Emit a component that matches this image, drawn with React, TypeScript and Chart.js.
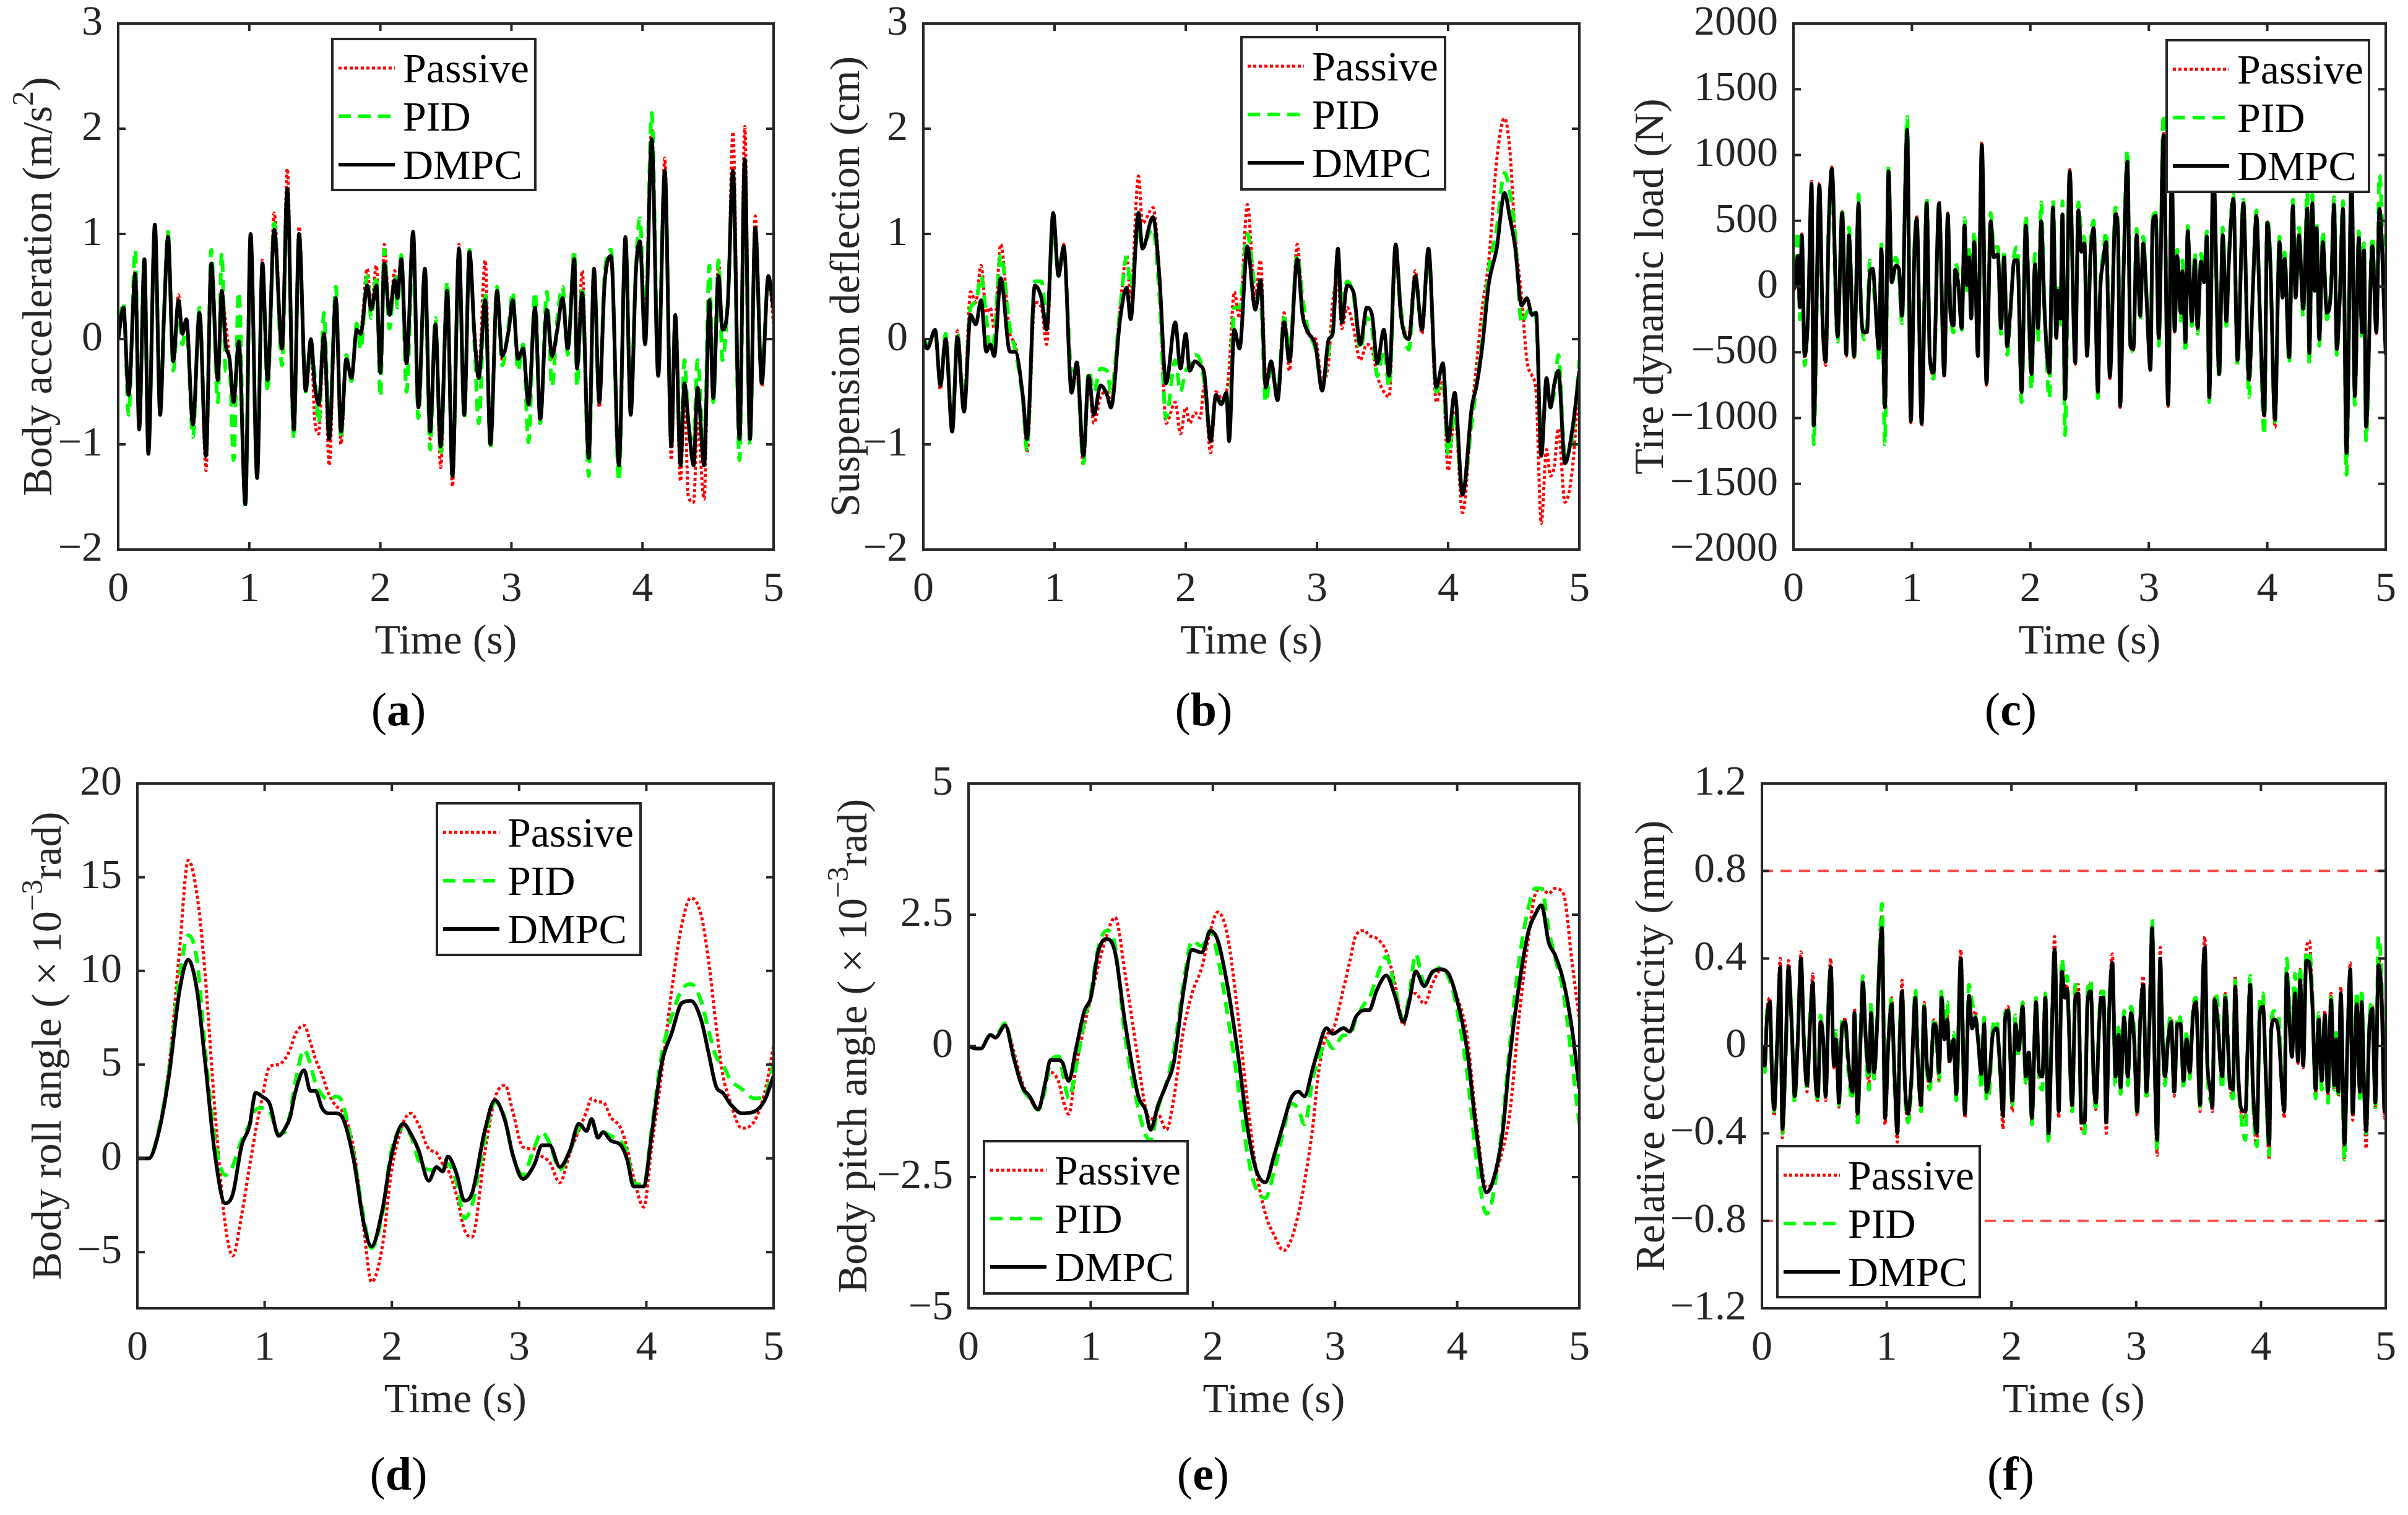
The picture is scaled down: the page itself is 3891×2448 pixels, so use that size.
import { useEffect, useRef } from "react";
import { Chart, registerables } from "chart.js";

Chart.register(...registerables);

const FONT = "'Liberation Serif', 'Times New Roman', serif";
const INK = "#262626";
const TXT = 68;
const PAD_TOP = 72;

// ---------- (a) body acceleration ----------
const accTime = [
  0, 0.04, 0.08, 0.13, 0.16, 0.2, 0.23, 0.28, 0.32, 0.35,
  0.38, 0.42, 0.46, 0.49, 0.52, 0.57, 0.62, 0.67, 0.71, 0.76,
  0.79, 0.82, 0.85, 0.88, 0.92, 0.97, 1.01, 1.06, 1.1, 1.14,
  1.19, 1.25, 1.29, 1.34, 1.38, 1.43, 1.47, 1.5, 1.53, 1.57,
  1.61, 1.66, 1.7, 1.74, 1.78, 1.82, 1.85, 1.9, 1.93, 1.97,
  2.0, 2.03, 2.07, 2.11, 2.13, 2.16, 2.2, 2.25, 2.29, 2.34,
  2.38, 2.42, 2.46, 2.51, 2.55, 2.6, 2.64, 2.68, 2.72, 2.75,
  2.8, 2.84, 2.89, 2.93, 2.98, 3.01, 3.05, 3.09, 3.13, 3.18,
  3.22, 3.27, 3.31, 3.35, 3.39, 3.43, 3.48, 3.5, 3.54, 3.59,
  3.63, 3.67, 3.71, 3.76, 3.82, 3.87, 3.91, 3.95, 3.98, 4.02,
  4.07, 4.12, 4.17, 4.22, 4.25, 4.29, 4.32, 4.35, 4.39, 4.42,
  4.47, 4.51, 4.54, 4.58, 4.61, 4.65, 4.69, 4.74, 4.78, 4.82,
  4.86, 4.91, 4.96, 5.0,
];
const accDmpc = [
  0, 0.3, -0.53, 0.62, -0.86, 0.76, -1.09, 1.09, -0.72, 0.23,
  0.97, -0.21, 0.37, 0.05, 0.19, -0.81, 0.25, -1.11, 0.72, -0.39,
  0.46, -0.05, -0.19, -0.6, -0.02, -1.57, 1.0, -1.32, 0.72, -0.39,
  1.04, -0.09, 1.43, -0.86, 1.0, -0.49, 0, -0.44, -0.62, 0.05,
  -0.95, 0.39, -0.88, -0.19, -0.37, 0.09, 0.05, 0.51, 0.28, 0.51,
  -0.32, 0.72, 0.23, 0.56, 0.39, 0.76, -0.23, 1.02, -0.65, 0.67,
  -0.88, 0.14, -1.02, 0.46, -1.3, 0.86, -0.72, 0.83, 0, -0.37,
  0.37, -1.0, 0.46, -0.16, 0.09, 0.37, -0.19, -0.09, -0.62, 0.3,
  -0.76, 0.28, -0.16, 0.09, 0.39, -0.09, 0.76, -0.28, 0.44, -1.13,
  0.67, -0.6, 0.51, 0.79, -1.2, 0.97, -0.72, 0.65, 0.93, -0.05,
  1.9, -0.35, 1.6, -1.02, 0.23, -1.2, -0.42, -0.79, -1.2, -0.46,
  -1.2, 0.37, -0.56, 0.6, 0.09, 0.32, 1.6, -0.95, 1.71, -0.95,
  1.06, -0.42, 0.6, 0.28,
];
const accPid = [
  0, 0.35, -0.72, 0.85, -0.8, 0.7, -1.05, 1.05, -0.65, 0.3,
  1.02, -0.3, 0.3, -0.05, 0.15, -0.93, 0.3, -1.1, 0.85, -0.6,
  0.82, -0.3, -0.3, -1.15, 0.45, -1.6, 0.95, -1.3, 0.65, -0.5,
  1.1, -0.25, 1.4, -0.95, 1.0, -0.5, -0.1, -0.35, -0.8, 0.25,
  -0.9, 0.5, -0.95, -0.15, -0.4, 0.15, -0.1, 0.6, 0.2, 0.6,
  -0.55, 0.85, 0.1, 0.6, 0.3, 0.8, -0.5, 0.9, -0.75, 0.6,
  -1.05, 0.2, -1.1, 0.55, -1.3, 0.8, -0.75, 0.85, -0.1, -0.8,
  0.45, -1.05, 0.5, -0.25, 0.15, 0.45, -0.3, -0.05, -0.98, 0.45,
  -0.8, 0.45, -0.45, 0.2, 0.5, -0.15, 0.85, -0.45, 0.5, -1.3,
  0.6, -0.55, 0.6, 0.85, -1.35, 0.95, -0.6, 0.7, 1.15, 0.1,
  2.15, -0.25, 1.55, -0.9, 0.2, -1.05, -0.2, -0.8, -0.95, -0.2,
  -1.05, 0.7, -0.6, 0.75, -0.2, 0.35, 1.55, -1.15, 1.6, -1.0,
  1.0, -0.3, 0.55, 0.45,
];
const accPassive = [
  0, 0.3, -0.55, 0.65, -0.85, 0.78, -1.08, 1.08, -0.7, 0.25,
  1.0, -0.2, 0.42, 0.05, 0.18, -0.85, 0.25, -1.25, 0.7, -0.38,
  0.45, 0.15, -0.2, -0.6, 0, -1.55, 0.98, -1.32, 0.75, -0.4,
  1.2, -0.1, 1.62, -0.88, 1.07, -0.5, 0, -0.78, -0.9, 0.05,
  -1.2, 0.4, -1.0, -0.2, -0.35, 0.1, 0.1, 0.67, 0.3, 0.7,
  -0.3, 0.9, 0.25, 0.65, 0.4, 0.78, -0.25, 1.0, -0.65, 0.65,
  -0.95, 0.15, -1.22, 0.45, -1.4, 0.9, -0.7, 0.75, 0.05, -0.3,
  0.75, -0.95, 0.45, -0.2, 0.1, 0.35, -0.2, -0.1, -0.62, 0.3,
  -0.78, 0.25, -0.18, 0.1, 0.4, -0.1, 0.8, -0.25, 0.65, -1.1,
  0.65, -0.65, 0.5, 0.75, -1.2, 0.95, -0.7, 0.7, 0.95, 0.2,
  2.0, -0.3, 1.72, -1.15, 0.15, -1.35, -0.5, -1.5, -1.55, -0.8,
  -1.52, 0.35, -0.6, 0.75, 0.1, 0.3, 1.97, -0.95, 2.02, -0.95,
  1.17, -0.45, 0.6, 0.15,
];

// ---------- (b) suspension deflection ----------
const defTime = [
  0, 0.03, 0.09, 0.13, 0.17, 0.22, 0.26, 0.31, 0.36, 0.4,
  0.44, 0.48, 0.51, 0.54, 0.59, 0.66, 0.7, 0.76, 0.79, 0.85,
  0.9, 0.94, 0.99, 1.03, 1.07, 1.13, 1.17, 1.22, 1.26, 1.3,
  1.35, 1.4, 1.43, 1.5, 1.55, 1.58, 1.64, 1.67, 1.75, 1.8,
  1.85, 1.92, 1.96, 2.0, 2.03, 2.07, 2.11, 2.14, 2.19, 2.23,
  2.27, 2.31, 2.33, 2.37, 2.41, 2.47, 2.53, 2.57, 2.61, 2.65,
  2.7, 2.75, 2.79, 2.85, 2.89, 2.93, 2.99, 3.04, 3.09, 3.12,
  3.16, 3.19, 3.23, 3.28, 3.33, 3.38, 3.42, 3.46, 3.51, 3.55,
  3.6, 3.64, 3.7, 3.75, 3.8, 3.85, 3.91, 3.96, 4.0, 4.05,
  4.11, 4.18, 4.22, 4.26, 4.31, 4.37, 4.43, 4.47, 4.51, 4.56,
  4.6, 4.64, 4.67, 4.71, 4.75, 4.78, 4.81, 4.84, 4.89, 4.95,
  5.0,
];
const defDmpc = [
  0, -0.09, 0.09, -0.44, 0, -0.88, 0.02, -0.69, 0.23, 0.14,
  0.37, -0.12, -0.05, -0.16, 0.58, -0.12, -0.12, -0.56, -0.95, 0.51,
  0.39, 0.09, 1.2, 0.6, 0.88, -0.51, -0.22, -1.11, -0.35, -0.72,
  -0.44, -0.53, -0.65, 0.19, 0.49, 0.19, 1.2, 0.86, 1.16, 0.58,
  -0.42, 0.16, -0.28, 0.05, -0.3, -0.21, -0.25, -0.32, -0.97, -0.53,
  -0.62, -0.51, -0.97, 0.09, -0.09, 0.88, 0.28, 0.56, -0.46, -0.21,
  -0.58, 0.16, -0.21, 0.76, 0.23, 0.07, -0.07, -0.49, 0, 0.05,
  0.86, 0.16, 0.51, 0.44, -0.05, 0.3, 0.23, -0.23, 0.09, -0.35,
  0.9, 0.23, 0, 0.6, 0.09, 0.86, -0.46, -0.23, -0.97, -0.51,
  -1.48, -0.65, -0.42, -0.07, 0.53, 0.86, 1.39, 1.16, 0.88, 0.32,
  0.39, 0.23, 0.25, -1.11, -0.37, -0.65, -0.42, -0.3, -1.18, -0.83,
  -0.3,
];
const defPid = [
  0, -0.05, 0.05, -0.45, 0.05, -0.85, 0.05, -0.6, 0.3, 0.35,
  0.6, 0.2, -0.1, 0.0, 0.8, 0.1, -0.1, -0.6, -1.05, 0.55,
  0.55, 0.2, 1.0, 0.7, 0.85, -0.3, -0.3, -1.18, -0.3, -0.5,
  -0.28, -0.3, -0.5, 0.3, 0.78, 0.5, 1.05, 0.9, 1.05, 0.4,
  -0.75, -0.2, -0.5, -0.3, -0.25, -0.15, -0.2, -0.4, -0.9, -0.55,
  -0.6, -0.6, -0.75, 0.3, 0.3, 1.0, 0.5, 0.4, -0.6, -0.3,
  -0.5, 0.2, -0.1, 0.8, 0.4, 0.1, -0.1, -0.45, -0.1, 0.1,
  0.75, 0.35, 0.55, 0.4, -0.1, 0.2, 0.1, -0.35, -0.1, -0.45,
  0.8, 0.3, -0.1, 0.55, 0.15, 0.8, -0.5, -0.4, -1.1, -0.7,
  -1.45, -0.8, -0.4, 0.0, 0.65, 1.05, 1.58, 1.4, 1.0, 0.15,
  0.25, 0.3, 0.2, -1.0, -0.5, -0.6, -0.5, -0.15, -1.1, -0.9,
  -0.2,
];
const defPassive = [
  0, -0.08, 0.05, -0.48, 0.05, -0.85, 0.08, -0.6, 0.45, 0.35,
  0.7, 0.25, 0.3, 0.1, 0.9, 0.05, -0.05, -0.6, -1.08, 0.35,
  0.3, -0.05, 1.15, 0.6, 0.9, -0.5, -0.3, -1.2, -0.4, -0.8,
  -0.55, -0.5, -0.6, 0.3, 0.8, 0.4, 1.55, 1.1, 1.25, 0.6,
  -0.8, -0.6, -0.9, -0.65, -0.8, -0.7, -0.75, -0.45, -1.08, -0.5,
  -0.55, -0.5, -0.3, 0.45, 0.2, 1.28, 0.4, 0.75, -0.35, -0.3,
  -0.5, 0.25, -0.3, 0.9, 0.3, 0.05, 0.0, -0.4, -0.2, 0.35,
  0.55, 0.1, 0.3, 0.1, -0.2, -0.05, -0.1, -0.35, -0.5, -0.55,
  0.8, 0.2, 0.05, 0.65, 0.05, 0.8, -0.6, -0.4, -1.25, -0.7,
  -1.65, -0.7, -0.2, 0.3, 0.75, 1.7, 2.1, 1.8, 1.0, 0.4,
  -0.2, -0.35, -0.5, -1.75, -1.05, -1.3, -1.2, -0.85, -1.55, -1.2,
  -0.3,
];

// ---------- (c) tire dynamic load ----------
const loadTime = [
  0, 0.01, 0.037, 0.054, 0.071, 0.094, 0.124, 0.153, 0.171, 0.219,
  0.246, 0.272, 0.298, 0.324, 0.373, 0.411, 0.446, 0.468, 0.512, 0.55,
  0.568, 0.594, 0.62, 0.646, 0.669, 0.69, 0.707, 0.721, 0.742, 0.772,
  0.803, 0.829, 0.864, 0.89, 0.916, 0.96, 0.991, 1.02, 1.041, 1.082,
  1.125, 1.151, 1.182, 1.229, 1.273, 1.303, 1.325, 1.352, 1.365, 1.39,
  1.421, 1.444, 1.465, 1.482, 1.5, 1.526, 1.557, 1.59, 1.63, 1.665,
  1.691, 1.726, 1.752, 1.778, 1.804, 1.83, 1.865, 1.891, 1.926, 1.961,
  2.01, 2.039, 2.065, 2.091, 2.118, 2.161, 2.191, 2.219, 2.236, 2.253,
  2.271, 2.292, 2.332, 2.379, 2.405, 2.431, 2.457, 2.478, 2.509, 2.535,
  2.57, 2.588, 2.614, 2.64, 2.671, 2.719, 2.74, 2.758, 2.787, 2.819,
  2.845, 2.87, 2.897, 2.927, 2.953, 2.98, 3.014, 3.032, 3.058, 3.084,
  3.124, 3.163, 3.194, 3.218, 3.24, 3.27, 3.284, 3.31, 3.328, 3.363,
  3.389, 3.412, 3.441, 3.467, 3.49, 3.51, 3.545, 3.594, 3.624, 3.655,
  3.676, 3.714, 3.749, 3.798, 3.845, 3.88, 3.908, 3.938, 3.975, 4.0,
  4.025, 4.065, 4.103, 4.129, 4.147, 4.185, 4.216, 4.239, 4.268, 4.303,
  4.338, 4.355, 4.381, 4.399, 4.416, 4.439, 4.469, 4.503, 4.538, 4.564,
  4.587, 4.611, 4.639, 4.669, 4.712, 4.739, 4.773, 4.8, 4.817, 4.834,
  4.887, 4.921, 4.947, 5.0,
];
const loadDmpc = [
  0, -10, 232, -158, 390, -528, -200, 781, -1055, 770,
  -264, -570, 464, 897, -380, 559, -517, 390, -528, 633,
  -116, -348, -348, 116, 137, -95, -369, -475, 285, -918,
  876, 32, 158, 137, -222, 1192, -1023, 222, 517, -1044,
  633, -538, -654, 633, -675, 549, -200, -295, 127, 32,
  -317, 464, 11, 222, -243, 338, -528, 1076, -738, 496,
  222, 243, -317, 222, -454, -200, 200, 200, -802, 464,
  -665, 169, -317, 496, -158, -654, 601, -390, -32, -243,
  549, -855, 876, -580, 580, 264, 327, -527, 250, 443,
  -802, -74, 190, 338, -686, 549, 411, -907, 116, 950,
  -454, -475, 390, -222, 327, -74, -633, 475, 538, -390,
  1150, -897, 860, -338, 232, -200, 116, -422, 422, -264,
  200, -317, 190, 32, 380, -844, 900, -665, 390, -264,
  190, 665, -559, 633, -707, 10, 538, -200, -981, 485,
  200, -1013, 338, -84, 211, -538, 612, -84, 390, -169,
  591, -506, 633, -32, 443, -401, 338, -200, -32, 622,
  -475, -116, 591, -1266, 850, -833, 369, -348, 274, -1066,
  306, -348, 591, -517,
];
const loadPid = [
  0, 60, 420, -250, 330, -600, -150, 700, -1200, 720,
  -300, -520, 520, 690, -420, 600, -480, 450, -560, 700,
  -50, -400, -300, 200, 80, -150, -300, -560, 320, -1200,
  920, 80, 220, 100, -280, 1290, -960, 300, 450, -980,
  680, -500, -700, 560, -620, 500, -150, -350, 180, 80,
  -330, 520, -60, 280, -220, 420, -480, 1000, -700, 560,
  300, 300, -360, 280, -520, -250, 250, 300, -880, 540,
  -780, 250, -420, 640, -100, -850, 660, -330, 20, -300,
  650, -1130, 790, -520, 640, 400, 360, -480, 330, 500,
  -850, -30, 240, 420, -600, 600, 460, -850, 180, 1040,
  -500, -420, 440, -260, 380, -30, -600, 520, 560, -450,
  1310, -880, 780, -300, 280, -260, 200, -500, 460, -300,
  260, -360, 250, 80, 420, -880, 760, -700, 450, -300,
  250, 700, -600, 660, -840, 60, 580, -260, -1130, 520,
  250, -1030, 380, -40, 260, -590, 660, -40, 450, -230,
  720, -590, 700, 30, 500, -450, 420, -250, 20, 680,
  -520, -80, 650, -1430, 820, -900, 420, -400, 330, -1170,
  380, -300, 850, -380,
];
const loadPassive = [
  0, -20, 250, -170, 400, -545, -210, 800, -1070, 790,
  -275, -600, 480, 910, -400, 570, -530, 400, -540, 650,
  -120, -360, -350, 120, 145, -100, -380, -490, 300, -930,
  890, 40, 165, 140, -230, 1210, -1035, 230, 530, -1060,
  650, -550, -670, 650, -690, 560, -205, -300, 130, 35,
  -325, 475, 15, 230, -250, 345, -540, 1100, -750, 505,
  230, 250, -325, 230, -465, -205, 205, 205, -820, 475,
  -680, 175, -325, 505, -165, -670, 615, -400, -35, -250,
  560, -870, 890, -590, 590, 270, 335, -540, 255, 450,
  -815, -80, 195, 345, -700, 560, 420, -920, 120, 965,
  -465, -485, 400, -230, 335, -80, -645, 485, 550, -400,
  1165, -910, 875, -345, 238, -205, 120, -430, 430, -270,
  205, -325, 195, 35, 390, -860, 915, -680, 400, -270,
  195, 680, -570, 650, -720, 12, 550, -205, -995, 495,
  205, -1070, 345, -88, 216, -550, 625, -88, 400, -175,
  605, -515, 650, -35, 455, -410, 345, -205, -35, 635,
  -485, -120, 605, -1290, 865, -845, 378, -355, 280, -1080,
  312, -355, 605, -525,
];

// ---------- (d) body roll angle (x1e-3 rad) ----------
const rollTime = [
  0, 0.09, 0.17, 0.25, 0.33, 0.4, 0.47, 0.53, 0.61, 0.69,
  0.75, 0.82, 0.88, 0.93, 0.98, 1.04, 1.11, 1.16, 1.2, 1.24,
  1.31, 1.36, 1.4, 1.45, 1.5, 1.56, 1.61, 1.7, 1.78, 1.84,
  1.93, 1.99, 2.09, 2.15, 2.21, 2.29, 2.35, 2.4, 2.44, 2.51,
  2.57, 2.63, 2.73, 2.81, 2.89, 2.95, 3.03, 3.12, 3.18, 3.24,
  3.32, 3.4, 3.47, 3.53, 3.57, 3.62, 3.66, 3.72, 3.8, 3.85,
  3.9, 3.98, 4.04, 4.12, 4.2, 4.28, 4.35, 4.43, 4.49, 4.55,
  4.6, 4.66, 4.75, 4.85, 4.93, 5.0,
];
const rollDmpc = [
  0, 0, 1.46, 4.5, 8.9, 10.6, 8.9, 5.3, 0.18, -2.4,
  -1.9, 0.7, 1.7, 3.5, 3.3, 2.9, 1.2, 1.6, 2.2, 3.5,
  4.7, 3.6, 3.6, 2.7, 2.4, 2.4, 2.2, -0.08, -3.5, -4.7,
  -2.6, -0.08, 1.85, 1.3, 0.44, -1.2, -0.46, -0.7, 0.1, -0.85,
  -2.26, -1.87, 1.46, 3.1, 2.0, 0.2, -1.1, -0.33, 0.7, 0.7,
  -0.46, 0.44, 1.85, 1.46, 2.1, 1.1, 1.4, 0.95, 0.7, -0.08,
  -1.5, -1.5, 1.2, 5.05, 6.7, 8.3, 8.4, 7.4, 5.6, 3.8,
  3.5, 2.9, 2.4, 2.5, 3.1, 4.4,
];
const rollPid = [
  0, 0, 1.6, 4.8, 9.6, 11.9, 10.5, 6.0, 1.0, -0.9,
  -0.4, 1.0, 1.8, 2.6, 2.7, 2.5, 1.3, 1.4, 2.4, 4.0,
  5.8, 5.0, 4.0, 3.4, 3.1, 3.3, 3.0, 0.2, -3.2, -4.8,
  -2.8, 0.2, 1.6, 1.2, -0.1, -0.6, -0.6, -0.5, -0.3, -1.3,
  -3.2, -2.5, 1.0, 3.0, 2.1, 0.2, -0.9, 0.6, 1.4, 0.8,
  -0.6, 0.4, 1.6, 1.8, 1.9, 1.3, 1.4, 1.2, 0.9, 0.3,
  -1.3, -1.4, 1.5, 5.5, 7.6, 9.0, 9.3, 8.4, 6.8, 5.4,
  5.0, 4.2, 3.7, 3.2, 3.3, 5.1,
];
const rollPassive = [
  0, 0, 1.5, 5.0, 11.0, 15.9, 14.0, 10.0, 2.5, -3.5,
  -5.2, -3.0, -0.5, 1.5, 3.2, 4.9, 5.0, 5.3, 5.8, 6.6,
  7.1, 6.2, 5.3, 4.5, 3.5, 2.8, 2.5, 0.5, -3.8, -6.6,
  -4.5, -1.0, 1.9, 2.4, 1.8, 0.5, 0.3, -0.3, -0.6, -2.0,
  -3.8, -4.2, 0.3, 3.2, 3.9, 2.5, 0.6, 0.5, 0.1, -0.2,
  -1.3, 0.3, 1.5, 2.5, 3.2, 3.0, 3.0, 2.2, 1.6, 0.5,
  -1.0, -2.6, 0.5, 4.5, 9.0, 12.5, 13.9, 13.0, 10.5, 7.0,
  4.5, 3.0, 1.6, 2.0, 3.5, 6.0,
];

// ---------- (e) body pitch angle (x1e-3 rad) ----------
const pitchTime = [
  0, 0.06, 0.1, 0.18, 0.22, 0.3, 0.37, 0.44, 0.5, 0.57,
  0.63, 0.67, 0.74, 0.77, 0.82, 0.88, 0.95, 1.0, 1.06, 1.13,
  1.2, 1.28, 1.39, 1.45, 1.49, 1.55, 1.62, 1.68, 1.76, 1.83,
  1.91, 1.98, 2.04, 2.12, 2.21, 2.28, 2.35, 2.43, 2.5, 2.58,
  2.64, 2.7, 2.75, 2.82, 2.86, 2.93, 2.98, 3.07, 3.12, 3.17,
  3.24, 3.28, 3.34, 3.42, 3.49, 3.56, 3.61, 3.66, 3.73, 3.8,
  3.87, 3.93, 3.99, 4.08, 4.16, 4.24, 4.29, 4.37, 4.43, 4.5,
  4.58, 4.64, 4.69, 4.75, 4.8, 4.87, 4.94, 5.0,
];
const pitchDmpc = [
  0, -0.05, -0.05, 0.21, 0.16, 0.39, -0.23, -0.78, -0.96, -1.21,
  -0.68, -0.27, -0.27, -0.32, -0.67, -0.05, 0.68, 0.91, 1.78, 2.04,
  1.78, 0.46, -0.96, -1.23, -1.6, -1.14, -0.73, -0.32, 1.05, 1.83,
  1.78, 2.19, 2.01, 1.14, -0.23, -1.5, -2.33, -2.6, -2.1, -1.46,
  -1.0, -0.87, -0.96, -0.41, -0.09, 0.34, 0.23, 0.34, 0.27, 0.55,
  0.68, 0.68, 1.05, 1.34, 0.96, 0.46, 0.87, 1.42, 1.14, 1.42,
  1.46, 1.37, 0.96, -0.05, -1.69, -2.79, -2.6, -1.69, -0.23, 1.05,
  2.15, 2.51, 2.68, 1.96, 1.74, 1.23, 0.32, -0.82,
];
const pitchPid = [
  0, -0.05, -0.05, 0.2, 0.18, 0.43, -0.2, -0.8, -1.0, -1.22,
  -0.8, -0.3, -0.2, -0.5, -1.0, -0.4, 0.5, 1.0, 1.85, 2.2,
  1.9, 0.2, -1.2, -1.7, -1.8, -1.2, -0.7, -0.1, 1.2, 2.0,
  1.9, 2.2, 1.7, 0.6, -0.8, -2.0, -2.7, -2.9, -2.4, -1.6,
  -1.1, -1.2, -1.5, -0.6, -0.3, 0.1, -0.05, 0.2, 0.2, 0.5,
  0.8, 0.9, 1.3, 1.7, 1.1, 0.5, 1.0, 1.75, 1.2, 1.4,
  1.5, 1.3, 0.8, -0.5, -2.2, -3.2, -2.9, -1.5, 0.0, 1.5,
  2.6, 3.0, 3.0, 2.2, 1.7, 1.0, -0.3, -1.5,
];
const pitchPassive = [
  0, -0.05, -0.05, 0.2, 0.15, 0.4, -0.1, -0.7, -1.0, -1.2,
  -0.7, -0.5, -0.7, -1.0, -1.3, -0.4, 0.4, 0.9, 1.5, 2.1,
  2.45, 1.4, -0.3, -1.2, -1.4, -1.3, -1.6, -1.0, 0.3, 1.0,
  1.5, 2.2, 2.55, 2.1, 0.5, -1.0, -2.3, -3.2, -3.6, -3.9,
  -3.7, -3.2, -2.6, -1.5, -0.6, 0.2, 0.3, 1.1, 1.6, 2.1,
  2.2, 2.1, 2.05, 1.8, 1.2, 0.4, 0.9, 1.0, 0.8, 1.2,
  1.45, 1.35, 1.0, 0.2, -1.5, -2.7, -2.6, -2.0, -1.3, 0.4,
  2.0, 2.9, 3.0, 2.9, 3.0, 2.9, 1.6, 0.5,
];

// ---------- (f) relative eccentricity (mm) ----------
const eccTime = [
  0, 0.023, 0.04, 0.064, 0.081, 0.098, 0.122, 0.147, 0.164, 0.188,
  0.213, 0.238, 0.263, 0.288, 0.313, 0.337, 0.362, 0.387, 0.408, 0.428,
  0.448, 0.47, 0.491, 0.511, 0.536, 0.552, 0.577, 0.594, 0.618, 0.643,
  0.668, 0.693, 0.726, 0.742, 0.767, 0.792, 0.809, 0.833, 0.858, 0.875,
  0.899, 0.924, 0.941, 0.962, 0.987, 1.015, 1.04, 1.061, 1.086, 1.106,
  1.123, 1.147, 1.172, 1.197, 1.23, 1.247, 1.276, 1.301, 1.321, 1.346,
  1.379, 1.395, 1.42, 1.44, 1.462, 1.486, 1.503, 1.536, 1.558, 1.594,
  1.627, 1.66, 1.685, 1.71, 1.735, 1.759, 1.781, 1.801, 1.825, 1.85,
  1.883, 1.908, 1.933, 1.949, 1.974, 2.007, 2.032, 2.057, 2.09, 2.115,
  2.14, 2.164, 2.197, 2.222, 2.247, 2.272, 2.297, 2.321, 2.346, 2.379,
  2.404, 2.429, 2.445,
  2.487, 2.512, 2.536, 2.561, 2.586, 2.611, 2.636, 2.66, 2.677, 2.702,
  2.718, 2.738, 2.76, 2.784, 2.809, 2.834, 2.859, 2.875, 2.903, 2.933,
  2.958, 2.983, 3.008, 3.032, 3.057, 3.082, 3.107, 3.128, 3.148, 3.168,
  3.193, 3.206, 3.231, 3.256, 3.28, 3.305, 3.33, 3.355, 3.38, 3.404,
  3.429, 3.454, 3.479, 3.512, 3.533, 3.55, 3.57, 3.595, 3.611, 3.628,
  3.652, 3.674, 3.69, 3.714, 3.735, 3.752, 3.776, 3.793, 3.818, 3.843,
  3.876, 3.892, 3.914, 3.934, 3.967, 3.991, 4.016, 4.041, 4.066, 4.082,
  4.107, 4.14, 4.165, 4.187, 4.206, 4.231, 4.248, 4.273, 4.297, 4.314,
  4.339, 4.363, 4.388, 4.413, 4.438, 4.463, 4.487, 4.512, 4.537, 4.562,
  4.587, 4.603, 4.62, 4.64, 4.669, 4.694, 4.716, 4.735, 4.768, 4.793,
  4.807, 4.826, 4.843, 4.868, 4.892, 4.917, 4.942, 4.967, 4.991, 5.0,
];
const eccDmpc = [
  0, -0.09, 0.12, 0.2, -0.13, -0.29, 0, 0.36, -0.38, -0.07,
  0.36, 0.1, -0.23, 0.03, 0.4, 0.01, -0.18, 0.11, 0.29, -0.14,
  -0.23, 0.11, 0.03, -0.23, 0.22, 0.36, -0.09, 0.03, -0.26, 0.09,
  0.11, -0.07, -0.21, 0.15, -0.31, 0.05, 0.29, 0.03, -0.12, 0.15,
  -0.12, 0.1, 0.36, 0.54, -0.33, 0.03, 0.19, -0.1, -0.4, 0.05,
  0.25, -0.18, -0.31, -0.16, 0.22, -0.03, -0.27, 0.18, -0.07, -0.16,
  0.1, 0.09, -0.12, 0.22, 0.03, 0.12, -0.07, 0.03, -0.22, 0.4,
  -0.31, 0.23, 0.08, 0.13, 0.01, -0.13, 0.1, -0.21, -0.13, 0.05,
  0.08, -0.09, -0.32, 0.12, 0.16, -0.25, 0.1, -0.02, 0.18, -0.14,
  -0.03, -0.33, 0.2, -0.12, -0.14, 0.22, -0.4, 0.01, 0.44, -0.3,
  0.34, 0.22, 0.26,
  -0.27, 0.22, 0.24, -0.35, -0.35, 0.21, 0.25, -0.16, -0.26, 0.08,
  0.22, 0.22, -0.35, 0.16, 0.38, -0.14, 0.05, -0.19, 0.13, -0.14,
  0.15, 0.03, -0.3, 0.11, 0.28, -0.21, 0.11, 0.54, -0.07, -0.43,
  0.4, 0.12, -0.14, 0.03, 0.11, -0.21, 0.1, 0.1, -0.16, 0.03,
  -0.12, 0.13, 0.2, -0.27, 0.28, 0.45, -0.07, -0.2, -0.28, 0.21,
  0.12, -0.07, -0.14, 0.22, 0.01, -0.18, -0.2, 0.27, -0.13, -0.29,
  -0.3, -0.03, 0.28, -0.16, -0.4, 0.15, 0.18, -0.16, -0.45, 0.07,
  0.12, 0.07, -0.16, -0.3, 0.33, 0.08, -0.05, 0.24, -0.07, 0.3,
  -0.09, 0.39, 0.38, 0.18, -0.2, 0.12, -0.16, 0.14, -0.21, 0.21,
  -0.18, 0.03, -0.21, 0.24, -0.45, 0.03, 0.35, -0.31, 0.19, -0.21,
  0.2, -0.18, -0.39, 0.07, 0.17, -0.26, 0.37, 0.22, -0.3, -0.01,
];
const eccPid = [
  0, -0.12, 0.16, 0.18, -0.16, -0.3, 0.03, 0.33, -0.4, -0.1,
  0.33, 0.14, -0.26, 0.06, 0.36, 0.05, -0.2, 0.15, 0.27, -0.1,
  -0.26, 0.14, 0.0, -0.2, 0.26, 0.34, -0.05, 0.07, -0.27, 0.12,
  0.08, -0.12, -0.25, 0.12, -0.35, 0.1, 0.32, 0.0, -0.2, 0.2,
  -0.15, 0.13, 0.4, 0.65, -0.3, 0.05, 0.22, -0.15, -0.36, 0.1,
  0.24, -0.22, -0.35, -0.2, 0.26, 0.03, -0.3, 0.2, -0.1, -0.2,
  0.13, 0.06, -0.16, 0.26, 0.08, 0.2, -0.05, 0.06, -0.25, 0.37,
  -0.27, 0.28, 0.2, 0.14, 0.05, -0.2, 0.13, -0.25, -0.2, 0.08,
  0.12, -0.12, -0.3, 0.15, 0.18, -0.28, 0.14, -0.05, 0.2, -0.18,
  -0.07, -0.36, 0.22, -0.15, -0.2, 0.24, -0.45, 0.05, 0.42, -0.25,
  0.4, 0.3, 0.32,
  -0.3, 0.28, 0.22, -0.32, -0.4, 0.25, 0.3, -0.2, -0.28, 0.12,
  0.24, 0.25, -0.3, 0.2, 0.36, -0.18, 0.1, -0.22, 0.16, -0.18,
  0.18, 0.07, -0.32, 0.14, 0.26, -0.25, 0.15, 0.58, -0.05, -0.48,
  0.37, 0.18, -0.18, 0.06, 0.14, -0.23, 0.14, 0.12, -0.2, 0.07,
  -0.15, 0.16, 0.22, -0.29, 0.26, 0.42, -0.1, -0.25, -0.26, 0.24,
  0.2, -0.1, -0.2, 0.25, 0.05, -0.2, -0.24, 0.3, -0.16, -0.33,
  -0.43, -0.02, 0.32, -0.2, -0.46, 0.22, 0.24, -0.2, -0.5, 0.1,
  0.16, 0.15, -0.14, -0.28, 0.4, 0.15, 0.04, 0.33, 0.0, 0.36,
  -0.05, 0.43, 0.43, 0.22, -0.24, 0.15, -0.2, 0.12, -0.26, 0.24,
  -0.2, 0.06, -0.24, 0.2, -0.52, 0.05, 0.33, -0.29, 0.25, -0.24,
  0.26, -0.16, -0.4, 0.1, 0.2, -0.28, 0.5, 0.3, -0.27, 0.05,
];
const eccPassive = [
  0, -0.1, 0.14, 0.22, -0.15, -0.32, 0, 0.4, -0.42, -0.08,
  0.39, 0.12, -0.25, 0.03, 0.43, 0.01, -0.21, 0.12, 0.33, -0.15,
  -0.25, 0.14, 0.03, -0.25, 0.25, 0.4, -0.1, 0.05, -0.28, 0.12,
  0.12, -0.08, -0.23, 0.17, -0.36, 0.05, 0.3, 0.03, -0.18, 0.16,
  -0.14, 0.12, 0.4, 0.6, -0.36, 0.03, 0.22, -0.12, -0.44, 0.06,
  0.3, -0.2, -0.35, -0.18, 0.24, -0.03, -0.3, 0.2, -0.08, -0.2,
  0.12, 0.1, -0.16, 0.24, 0.03, 0.14, -0.08, 0.03, -0.23, 0.44,
  -0.33, 0.22, 0.1, 0.16, 0.01, -0.14, 0.12, -0.22, -0.14, 0.06,
  0.1, -0.1, -0.38, 0.13, 0.18, -0.3, 0.11, -0.02, 0.2, -0.17,
  -0.03, -0.36, 0.21, -0.14, -0.15, 0.24, -0.42, 0.01, 0.5, -0.33,
  0.36, 0.25, 0.28,
  -0.3, 0.25, 0.28, -0.38, -0.37, 0.24, 0.28, -0.18, -0.29, 0.09,
  0.25, 0.24, -0.4, 0.18, 0.42, -0.15, 0.06, -0.21, 0.14, -0.16,
  0.17, 0.03, -0.32, 0.12, 0.32, -0.23, 0.12, 0.56, -0.08, -0.5,
  0.45, 0.13, -0.16, 0.03, 0.12, -0.23, 0.11, 0.11, -0.18, 0.03,
  -0.14, 0.14, 0.22, -0.3, 0.3, 0.5, -0.08, -0.22, -0.3, 0.23,
  0.13, -0.08, -0.15, 0.24, 0.01, -0.2, -0.22, 0.32, -0.14, -0.31,
  -0.33, -0.03, 0.3, -0.18, -0.46, 0.16, 0.2, -0.18, -0.52, 0.08,
  0.13, 0.08, -0.18, -0.33, 0.36, 0.09, -0.05, 0.27, -0.08, 0.35,
  -0.1, 0.44, 0.48, 0.2, -0.22, 0.14, -0.18, 0.16, -0.23, 0.24,
  -0.2, 0.03, -0.23, 0.27, -0.52, 0.03, 0.38, -0.34, 0.21, -0.24,
  0.22, -0.2, -0.47, 0.08, 0.19, -0.29, 0.4, 0.24, -0.33, -0.01,
];
const eccLimits = [0.8, -0.8];

// ---------- ticks ----------
const timeTicks = [0, 1, 2, 3, 4, 5];
const accTicks = [-2, -1, 0, 1, 2, 3];
const defTicks = [-2, -1, 0, 1, 2, 3];
const loadTicks = [-2000, -1500, -1000, -500, 0, 500, 1000, 1500, 2000];
const rollTicks = [-5, 0, 5, 10, 15, 20];
const pitchTicks = [-5, -2.5, 0, 2.5, 5];
const eccTicks = [-1.2, -0.8, -0.4, 0, 0.4, 0.8, 1.2];

type Seg = { t: string; sup?: boolean };

interface Panel {
  tag: string;
  time: number[];
  dmpc: number[];
  pid: number[];
  passive: number[];
  yMin: number;
  yMax: number;
  yTicks: number[];
  plot: number[]; // left, top, right, bottom (page px)
  col: number;
  tagX: number;
  rowEnd: number;
  tagY: number;
  yTitle: Seg[];
  yTitleX: number;
  legend: number[]; // dx, dy, w, h from plot corner
  limits?: number[];
}

const SCALE_E = [{ t: "(\u2009\u00d7\u200910" }, { t: "\u22123", sup: true }, { t: "rad)" }];

const panels: Panel[] = [
  {
    tag: "a", time: accTime, dmpc: accDmpc, pid: accPid, passive: accPassive,
    yMin: -2, yMax: 3, yTicks: accTicks, plot: [191, 38, 1250, 888], col: 0, tagX: 644,
    rowEnd: 1230, tagY: 1172,
    yTitle: [{ t: "Body acceleration (m/s" }, { t: "2", sup: true }, { t: ")" }], yTitleX: -131,
    legend: [346, 25, 328, 244],
  },
  {
    tag: "b", time: defTime, dmpc: defDmpc, pid: defPid, passive: defPassive,
    yMin: -2, yMax: 3, yTicks: defTicks, plot: [1492, 38, 2552, 888], col: 1300, tagX: 1945,
    rowEnd: 1230, tagY: 1172,
    yTitle: [{ t: "Suspension deflection (cm)" }], yTitleX: -127,
    legend: [514, 22, 329, 246],
  },
  {
    tag: "c", time: loadTime, dmpc: loadDmpc, pid: loadPid, passive: loadPassive,
    yMin: -2000, yMax: 2000, yTicks: loadTicks, plot: [2898, 38, 3855, 888], col: 2600, tagX: 3249,
    rowEnd: 1230, tagY: 1172,
    yTitle: [{ t: "Tire dynamic load (N)" }], yTitleX: -234,
    legend: [603, 27, 327, 245],
  },
  {
    tag: "d", time: rollTime, dmpc: rollDmpc, pid: rollPid, passive: rollPassive,
    yMin: -8, yMax: 20, yTicks: rollTicks, plot: [222, 1266, 1250, 2114], col: 0, tagX: 644,
    rowEnd: 2448, tagY: 2407,
    yTitle: [{ t: "Body roll angle " }, ...SCALE_E], yTitleX: -147,
    legend: [484, 32, 329, 245],
  },
  {
    tag: "e", time: pitchTime, dmpc: pitchDmpc, pid: pitchPid, passive: pitchPassive,
    yMin: -5, yMax: 5, yTicks: pitchTicks, plot: [1565, 1266, 2552, 2114], col: 1300, tagX: 1944,
    rowEnd: 2448, tagY: 2407,
    yTitle: [{ t: "Body pitch angle " }, ...SCALE_E], yTitleX: -188,
    legend: [25, 578, 329, 246],
  },
  {
    tag: "f", time: eccTime, dmpc: eccDmpc, pid: eccPid, passive: eccPassive,
    yMin: -1.2, yMax: 1.2, yTicks: eccTicks, plot: [2847, 1266, 3855, 2114], col: 2600, tagX: 3249,
    rowEnd: 2448, tagY: 2407,
    yTitle: [{ t: "Relative eccentricity (mm)" }], yTitleX: -181,
    legend: [25, 586, 327, 244], limits: eccLimits,
  },
];

const fmt = (v: number | string) => String(v).replace("-", "\u2212");

function drawRich(ctx: CanvasRenderingContext2D, segs: Seg[], cx: number, cy: number) {
  const big = `${TXT}px ${FONT}`;
  const small = `${Math.round(TXT * 0.7)}px ${FONT}`;
  const widths = segs.map((s) => {
    ctx.font = s.sup ? small : big;
    return ctx.measureText(s.t).width;
  });
  let x = cx - widths.reduce((a, b) => a + b, 0) / 2;
  ctx.textAlign = "left";
  ctx.textBaseline = "alphabetic";
  segs.forEach((s, i) => {
    ctx.font = s.sup ? small : big;
    ctx.fillText(s.t, x, cy + 23 - (s.sup ? 30 : 0));
    x += widths[i];
  });
}

const matlabAxes = {
  id: "matlabAxes",
  afterDraw(chart: any, _args: unknown, opts: any) {
    const { ctx, chartArea: a } = chart;
    const xs = chart.scales.x;
    const ys = chart.scales.y;
    ctx.save();
    ctx.setLineDash([]);
    ctx.strokeStyle = INK;
    ctx.lineWidth = 4;
    ctx.beginPath();
    for (const t of xs.ticks) {
      const px = xs.getPixelForValue(t.value);
      ctx.moveTo(px, a.bottom);
      ctx.lineTo(px, a.bottom - 12);
      ctx.moveTo(px, a.top);
      ctx.lineTo(px, a.top + 12);
    }
    for (const t of ys.ticks) {
      const py = ys.getPixelForValue(t.value);
      ctx.moveTo(a.left, py);
      ctx.lineTo(a.left + 12, py);
      ctx.moveTo(a.right, py);
      ctx.lineTo(a.right - 12, py);
    }
    ctx.stroke();
    ctx.strokeRect(a.left, a.top, a.right - a.left, a.bottom - a.top);

    // axis titles
    ctx.fillStyle = INK;
    drawRich(ctx, [{ t: "Time (s)" }], (a.left + a.right) / 2, a.bottom + 145);
    ctx.save();
    ctx.translate(a.left + opts.yTitleX, (a.top + a.bottom) / 2);
    ctx.rotate(-Math.PI / 2);
    drawRich(ctx, opts.yTitle, 0, 0);
    ctx.restore();

    // legend box
    const [dx, dy, w, h] = opts.legend;
    const lx = a.left + dx;
    const ly = a.top + dy;
    ctx.fillStyle = "#ffffff";
    ctx.fillRect(lx, ly, w, h);
    ctx.strokeStyle = INK;
    ctx.lineWidth = 4;
    ctx.strokeRect(lx, ly, w, h);
    const items = chart.data.datasets.filter((d: any) => d.label).slice().reverse();
    items.forEach((d: any, i: number) => {
      const cy = ly + 47 + i * 78;
      ctx.strokeStyle = d.borderColor;
      ctx.lineWidth = d.borderWidth;
      ctx.setLineDash(d.borderDash || []);
      ctx.beginPath();
      ctx.moveTo(lx + 10, cy);
      ctx.lineTo(lx + 101, cy);
      ctx.stroke();
      ctx.setLineDash([]);
      ctx.fillStyle = "#000000";
      ctx.font = `${TXT}px ${FONT}`;
      ctx.textAlign = "left";
      ctx.textBaseline = "alphabetic";
      ctx.fillText(d.label, lx + 114, cy + 23);
    });

    // panel tag "(a)"
    const reg = `76px ${FONT}`;
    const bold = `bold 76px ${FONT}`;
    const parts = [
      { t: "(", f: reg },
      { t: opts.tag, f: bold },
      { t: ")", f: reg },
    ];
    const pw = parts.map((p) => {
      ctx.font = p.f;
      return ctx.measureText(p.t).width;
    });
    let tx = opts.tagX - pw.reduce((s, v) => s + v, 0) / 2;
    ctx.fillStyle = "#000000";
    parts.forEach((p, i) => {
      ctx.font = p.f;
      ctx.fillText(p.t, tx, opts.tagY);
      tx += pw[i];
    });
    ctx.restore();
  },
};

const toPoints = (xs: number[], ys: number[]) => xs.map((x, i) => ({ x, y: ys[i] }));

const PanelChart = ({ panel }: { panel: Panel }) => {
  const chartRef = useRef<HTMLCanvasElement | null>(null);
  const [pl, pt, pr, pb] = panel.plot;
  const x0 = panel.col;
  const y0 = pt - PAD_TOP;
  const width = pr + 45 - x0;
  const height = panel.rowEnd - y0;

  useEffect(() => {
    if (!chartRef.current) return;
    const ctx = chartRef.current.getContext("2d");
    if (!ctx) return;

    const datasets: any[] = [
      { label: "DMPC", data: toPoints(panel.time, panel.dmpc), borderColor: "#000000", borderWidth: 6, borderDash: [] },
      { label: "PID", data: toPoints(panel.time, panel.pid), borderColor: "#00ff00", borderWidth: 6, borderDash: [20, 12] },
      { label: "Passive", data: toPoints(panel.time, panel.passive), borderColor: "#ff0000", borderWidth: 5, borderDash: [5, 4] },
    ];
    (panel.limits || []).forEach((v) => {
      datasets.push({
        label: "",
        data: [{ x: 0, y: v }, { x: 5, y: v }],
        borderColor: "#ff4d4d",
        borderWidth: 4,
        borderDash: [18, 12],
        cubicInterpolationMode: "default",
      });
    });

    const tickFont = { family: FONT, size: TXT };
    const chartInstance = new Chart(ctx, {
      type: "line",
      data: { datasets },
      options: {
        animation: false,
        responsive: false,
        events: [],
        layout: { padding: { top: PAD_TOP, right: 45, left: 0, bottom: 0 } },
        elements: {
          point: { radius: 0 },
          line: { cubicInterpolationMode: "monotone", borderJoinStyle: "round", fill: false },
        },
        plugins: {
          legend: { display: false },
          tooltip: { enabled: false },
          matlabAxes: {
            yTitle: panel.yTitle,
            yTitleX: panel.yTitleX,
            legend: panel.legend,
            tag: panel.tag,
            tagX: panel.tagX - x0,
            tagY: panel.tagY - y0,
          },
        } as any,
        scales: {
          x: {
            type: "linear",
            min: 0,
            max: 5,
            afterBuildTicks: (s: any) => {
              s.ticks = timeTicks.map((value) => ({ value }));
            },
            afterFit: (s: any) => {
              s.height = panel.rowEnd - pb;
            },
            grid: { display: false, drawTicks: false },
            border: { display: false },
            ticks: { font: tickFont, color: INK, padding: 24, maxRotation: 0, autoSkip: false, callback: fmt },
          },
          y: {
            type: "linear",
            min: panel.yMin,
            max: panel.yMax,
            afterBuildTicks: (s: any) => {
              s.ticks = panel.yTicks.map((value) => ({ value }));
            },
            afterFit: (s: any) => {
              s.width = pl - x0;
            },
            grid: { display: false, drawTicks: false },
            border: { display: false },
            ticks: { font: tickFont, color: INK, padding: 25, autoSkip: false, callback: fmt },
          },
        },
      } as any,
      plugins: [matlabAxes],
    });

    return () => {
      chartInstance.destroy();
    };
  }, []);

  return (
    <canvas
      ref={chartRef}
      width={width}
      height={height}
      style={{ position: "absolute", left: x0, top: y0, width, height }}
    ></canvas>
  );
};

const App = () => {
  useEffect(() => {
    document.body.style.margin = "0";
  }, []);
  return (
    <div
      style={{
        position: "absolute",
        left: 0,
        top: 0,
        width: 3891,
        height: 2448,
        overflow: "hidden",
        background: "#ffffff",
      }}
    >
      {panels.map((p) => (
        <PanelChart key={p.tag} panel={p} />
      ))}
    </div>
  );
};

export default App;
